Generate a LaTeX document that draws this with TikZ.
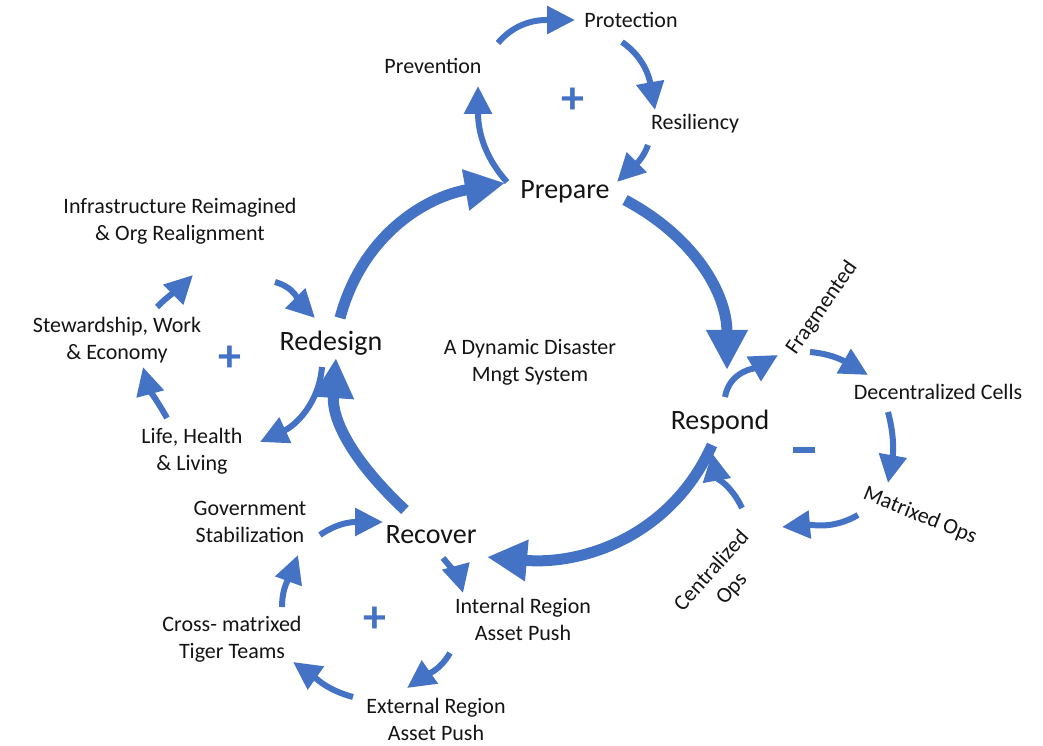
\documentclass[tikz,border=0pt]{standalone}
\usepackage{fontspec}
\setmainfont{Carlito}
\usepackage{tikz}
\usetikzlibrary{arrows.meta,calc}
\definecolor{loopblue}{HTML}{4472C4}
\definecolor{labelink}{HTML}{141414}

\begin{document}
\begin{tikzpicture}[x=1pt,y=1pt,
    lbl/.style={font=\fontsize{22}{27}\selectfont, text=labelink, align=center, inner sep=0pt},
    phase/.style={font=\fontsize{28}{32}\selectfont, text=labelink, inner sep=0pt},
    sign/.style={font=\fontsize{46}{46}\selectfont\bfseries, text=loopblue, inner sep=0pt},
    bigflow/.style={draw=loopblue, line width=11pt, -{Triangle[length=40pt,width=39pt]}},
    flow/.style={draw=loopblue, line width=6pt, -{Triangle[length=28pt,width=27pt]}}]
  \useasboundingbox (0,0) rectangle (1043,745);

  % the four phases
  \node[phase] (prepare)  at (565,553) {Prepare};
  \node[phase] (respond)  at (720,323) {Respond};
  \node[phase] (recover)  at (431,210) {Recover};
  \node[phase] (redesign) at (331,402) {Redesign};
  \node[lbl]   (system)   at (530,383) {A Dynamic Disaster\\Mngt System};

  % prepare loop
  \node[lbl] (prevention) at (433,679) {Prevention};
  \node[lbl] (protection) at (631,725) {Protection};
  \node[lbl] (resiliency) at (695,621) {Resiliency};
  \node[sign] (plustop)   at (573,644) {+};

  % respond loop
  \node[lbl, rotate=55]  (fragmented) at (822,437) {Fragmented};
  \node[lbl]             (cells)      at (938,353) {Decentralized Cells};
  \node[lbl, rotate=-22] (matrixed)   at (920,229) {Matrixed Ops};
  \node[lbl, rotate=48]  (central)    at (722,165) {Centralized\\Ops};
  \node[text=loopblue, inner sep=0pt] (minus) at (804,295) {\rule{22pt}{6pt}};

  % recover loop
  \node[lbl] (government) at (250,223) {Government\\Stabilization};
  \node[lbl] (internal)   at (523,126) {Internal Region\\Asset Push};
  \node[lbl] (external)   at (436,26)  {External Region\\Asset Push};
  \node[lbl] (cross)      at (232,106) {Cross- matrixed\\Tiger Teams};
  \node[sign] (plusbottom) at (375,125) {+};

  % redesign loop
  \node[lbl] (infra)       at (180,524) {Infrastructure Reimagined\\\& Org Realignment};
  \node[lbl] (stewardship) at (117,405) {Stewardship, Work\\\& Economy};
  \node[lbl] (life)        at (192,294) {Life, Health\\\& Living};
  \node[sign] (plusleft)   at (230,386) {+};

  % main cycle
  \draw[bigflow] ($(redesign)+(9,25)$)  to[out=75,in=190]  ($(prepare)+(-60,9)$);
  \draw[bigflow] ($(prepare)+(60,-8)$)  to[out=-28,in=90]  ($(respond)+(7,52)$);
  \draw[bigflow] ($(respond)+(-8,-23)$) to[out=-114,in=-5] ($(recover)+(56,-22)$);
  \draw[bigflow] ($(recover)+(-26,25)$) to[out=137,in=-94] ($(redesign)+(5,-15)$);

  % prepare loop arrows
  \draw[flow] ($(prepare)+(-58,10)$)    to[out=132,in=-90] ($(prevention)+(45,-20)$);
  \draw[flow] ($(prevention)+(65,23)$)  to[out=50,in=180]  ($(protection)+(-56,0)$);
  \draw[flow] ($(protection)+(-9,-22)$) to[out=-35,in=100] ($(resiliency)+(-40,14)$);
  \draw[flow] ($(resiliency)+(-47,-21)$) to[out=-110,in=45] ($(prepare)+(52,10)$);

  % respond loop arrows
  \draw[flow] ($(respond)+(5,25)$)      to[out=80,in=210]  ($(fragmented)+(-44,-47)$);
  \draw[flow] ($(fragmented)+(-12,-44)$) to[out=-5,in=150] ($(cells)+(-70,17)$);
  \draw[flow] ($(cells)+(-50,-20)$)     to[out=-75,in=80]  ($(matrixed)+(-32,33)$);
  \draw[flow] ($(matrixed)+(-62,1)$)    to[out=-150,in=5]  ($(central)+(60,53)$);
  \draw[flow] ($(central)+(20,72)$)     to[out=115,in=-80] ($(respond)+(-8,-31)$);

  % recover loop arrows
  \draw[flow] ($(government)+(70,-13)$) to[out=35,in=180]  ($(recover)+(-48,13)$);
  \draw[flow] ($(recover)+(12,-23)$)    to[out=-50,in=105] ($(internal)+(-60,26)$);
  \draw[flow] ($(internal)+(-73,-34)$)  to[out=-120,in=35] ($(external)+(-29,31)$);
  \draw[flow] ($(external)+(-83,22)$)   to[out=165,in=-35] ($(cross)+(61,-23)$);
  \draw[flow] ($(cross)+(50,32)$)       to[out=90,in=-110] ($(government)+(48,-33)$);

  % redesign loop arrows
  \draw[flow] ($(infra)+(95,-61)$)       to[out=-15,in=135] ($(redesign)+(-16,25)$);
  \draw[flow] ($(redesign)+(-9,-24)$)    to[out=-95,in=25]  ($(life)+(68,9)$);
  \draw[flow] ($(life)+(-25,33)$)        to[out=120,in=-75] ($(stewardship)+(26,-27)$);
  \draw[flow] ($(stewardship)+(40,33)$)  to[out=45,in=-135] ($(infra)+(13,-54)$);
\end{tikzpicture}
\end{document}
